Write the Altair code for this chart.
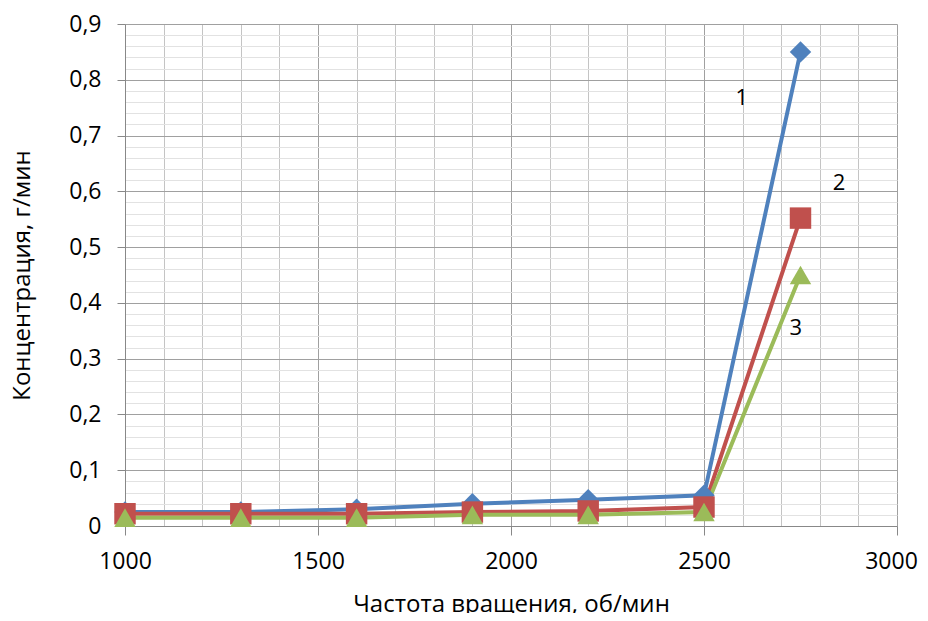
import altair as alt
import pandas as pd

rpm = [1000, 1300, 1600, 1900, 2200, 2500, 2750]
series_1 = [0.025, 0.025, 0.030, 0.040, 0.047, 0.055, 0.850]
series_2 = [0.022, 0.022, 0.022, 0.025, 0.027, 0.034, 0.552]
series_3 = [0.015, 0.015, 0.015, 0.020, 0.020, 0.025, 0.450]
series_names = ["1", "2", "3"]
colors = ["#4F81BD", "#C0504D", "#9BBB59"]
shapes = ["diamond", "square", "triangle-up"]

label_text = ["1", "2", "3"]
label_x = [2598, 2850, 2738]
label_y = [0.767, 0.615, 0.355]

x_major = [1000, 1500, 2000, 2500, 3000]
x_minor = [1100, 1200, 1300, 1400, 1600, 1700, 1800, 1900, 2100, 2200,
           2300, 2400, 2600, 2700, 2800, 2900]
y_major = [0, 0.1, 0.2, 0.3, 0.4, 0.5, 0.6, 0.7, 0.8, 0.9]
y_minor = [round(v / 100, 2) for v in range(0, 91, 2) if v % 10 != 0]

rows = []
for name, vals in zip(series_names, [series_1, series_2, series_3]):
    for x, y in zip(rpm, vals):
        rows.append({"series": name, "x": x, "y": y})
df = pd.DataFrame(rows)
labels_df = pd.DataFrame({"t": label_text, "x": label_x, "y": label_y})

FONT = "Open Sans"
xscale = alt.Scale(domain=[1000, 3000], nice=False, zero=False)
yscale = alt.Scale(domain=[0, 0.9], nice=False)
color = alt.Color("series:N", scale=alt.Scale(domain=series_names, range=colors), legend=None)
shape = alt.Shape("series:N", scale=alt.Scale(domain=series_names, range=shapes), legend=None)

minor = alt.Chart(df).mark_point(opacity=0).encode(
    x=alt.X("x:Q", scale=xscale, axis=alt.Axis(values=x_minor, grid=True, gridColor="#c4c4c4",
                                                 gridWidth=1, labels=False, ticks=False, domain=False,
                                                 title=None, orient="bottom")),
    y=alt.Y("y:Q", scale=yscale, axis=alt.Axis(values=y_minor, grid=True, gridColor="#e2e2e2",
                                                 gridWidth=1, labels=False, ticks=False, domain=False,
                                                 title=None, orient="left")),
)

ylab = "datum.value == 0 ? '0' : replace(format(datum.value, '.1f'), '.', ',')"

lines = alt.Chart(df).mark_line(strokeWidth=4).encode(
    x=alt.X("x:Q", scale=xscale, axis=alt.Axis(
        values=x_major, grid=True, gridColor="#a0a0a0", gridWidth=1,
        domainColor="#888888", domainWidth=1, tickColor="#888888", tickSize=9,
        labelFont=FONT, labelFontSize=23, labelColor="#000000", labelPadding=15,
        labelFlush=False, format="d",
        labelOffset=alt.condition("datum.value == 3000", alt.value(-6), alt.value(0)),
        title="Частота вращения, об/мин", titleFont=FONT, titleFontSize=24,
        titleFontWeight="normal", titleColor="#000000", titlePadding=19, orient="bottom")),
    y=alt.Y("y:Q", scale=yscale, axis=alt.Axis(
        values=y_major, grid=True, gridColor="#a0a0a0", gridWidth=1,
        domainColor="#888888", domainWidth=1, tickColor="#888888", tickSize=8,
        labelFont=FONT, labelFontSize=23, labelColor="#000000", labelPadding=16,
        labelExpr=ylab,
        title="Концентрация, г/мин", titleFont=FONT, titleFontSize=24,
        titleFontWeight="normal", titleColor="#000000", titlePadding=34, orient="left")),
    color=color,
    detail="series:N",
)

points = alt.Chart(df).mark_point(filled=True, opacity=1, size=460).encode(
    x=alt.X("x:Q", axis=None), y=alt.Y("y:Q", axis=None), color=color, shape=shape,
)

texts = alt.Chart(labels_df).mark_text(font=FONT, fontSize=22, color="#000000").encode(
    x=alt.X("x:Q", axis=None), y=alt.Y("y:Q", axis=None), text="t:N"
)

chart = alt.layer(minor, lines, points, texts).resolve_axis(
    x="independent", y="independent"
).properties(
    width=772, height=502,
    autosize=alt.AutoSizeParams(type="none"),
    padding={"left": 117, "top": 16, "right": 23, "bottom": 87},
    background="white",
).configure_view(stroke=None)

chart.save("out.html", embed_options={"renderer": "svg", "actions": False})
